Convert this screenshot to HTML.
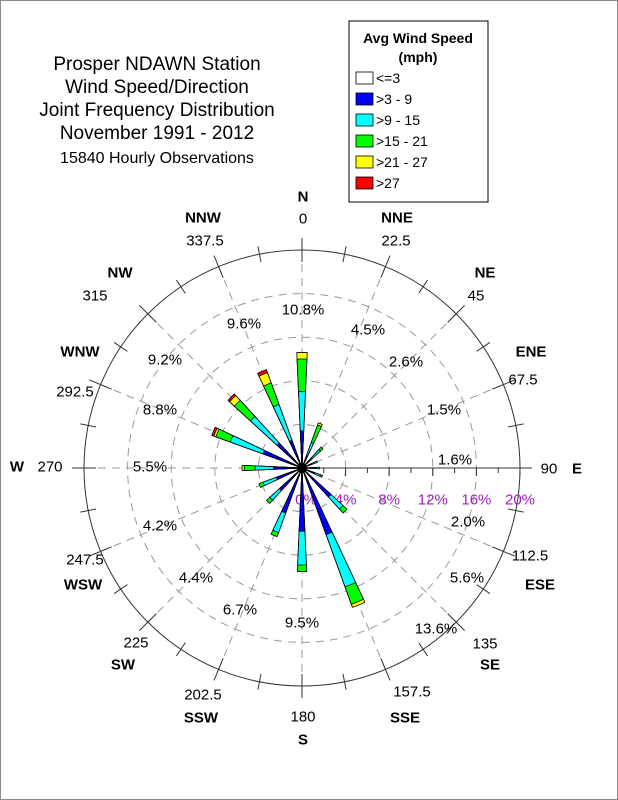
<!DOCTYPE html>
<html><head><meta charset="utf-8"><style>
body{margin:0;background:#fff}
svg{display:block;font-family:"Liberation Sans",Arial,sans-serif}
</style></head><body>
<svg id="s" width="618" height="800" viewBox="0 0 618 800" xmlns="http://www.w3.org/2000/svg">
<rect x="0.5" y="0.5" width="617" height="799" fill="#fff" stroke="#888"/>
<g font-size="19" text-anchor="middle" fill="#000">
<text x="157" y="70">Prosper NDAWN Station</text>
<text x="157" y="93">Wind Speed/Direction</text>
<text x="157" y="116">Joint Frequency Distribution</text>
<text x="157" y="139">November 1991 - 2012</text>
<text x="157" y="163" font-size="16">15840 Hourly Observations</text>
</g>
<rect x="349" y="21" width="139" height="181" fill="#fff" stroke="#000"/>
<g font-size="14" font-weight="bold" text-anchor="middle"><text x="418" y="43">Avg Wind Speed</text><text x="418" y="62">(mph)</text></g>
<g id="leg" font-size="14"></g>
<g id="g"></g>
</svg>
<script>
var NS="http://www.w3.org/2000/svg",g=document.getElementById('g'),leg=document.getElementById('leg');
function el(t,a,p){var e=document.createElementNS(NS,t);for(var k in a)e.setAttribute(k,a[k]);(p||g).appendChild(e);return e;}
function tx(x,y,s,a){var e=el('text',Object.assign({x:x,y:y,'text-anchor':'middle','dominant-baseline':'central','font-size':15},a||{}));e.textContent=s;return e;}
var cols=['#fff','#0000ff','#00ffff','#00ff00','#ffff00','#ff0000'],labs=['<=3','>3 - 9','>9 - 15','>15 - 21','>21 - 27','>27'];
labs.forEach(function(l,i){var y=78+i*21;el('rect',{x:356,y:y-6,width:17,height:12,fill:cols[i],stroke:'#000','stroke-width':0.8},leg);var t=el('text',{x:376,y:y+5},leg);t.textContent=l;});
var cx=302,cy=468,R=218,P=R/20;
// rings
[4,8,12,16].forEach(function(p){el('circle',{cx:cx,cy:cy,r:p*P,fill:'none',stroke:'#999','stroke-dasharray':'8,6'});});
for(var i=0;i<16;i++){var a=i*22.5*Math.PI/180;if(i==4)continue;el('line',{x1:cx,y1:cy,x2:cx+R*Math.sin(a),y2:cy-R*Math.cos(a),stroke:'#999','stroke-dasharray':'8,6'});}
el('circle',{cx:cx,cy:cy,r:R,fill:'none',stroke:'#333'});
for(var i=0;i<32;i++){var a=i*11.25*Math.PI/180,r1=R-8,r2=R+8;if(i%2==0){r1=R-12;r2=R+12;}el('line',{x1:cx+r1*Math.sin(a),y1:cy-r1*Math.cos(a),x2:cx+r2*Math.sin(a),y2:cy-r2*Math.cos(a),stroke:'#333'});}
el('line',{x1:cx,y1:cy,x2:cx+R,y2:cy,stroke:'#333'});
for(var p=2;p<=20;p+=2){var x=cx+p*P;el('line',{x1:x,y1:cy,x2:x,y2:cy+(p%4==0?8:5),stroke:'#333'});}
[0,4,8,12,16,20].forEach(function(p){tx(cx+p*P+(p==0?4:0),cy+32,p+'%',{fill:'#a020c0','font-size':15});});
// petals: cumulative percents
var D=[[3.4,7.0,10.0,10.6],[1.2,2.5,4.2,4.4],[1.2,2.3,2.6],[1.0,1.5],[1.3,1.6],[1.2,1.8,2.0],[3.6,5.1,5.6],[6.5,11.6,13.3,13.6],[5.8,8.9,9.5],[4.4,6.3,6.7],[2.8,4.0,4.4],[2.5,3.8,4.2],[2.6,4.3,5.3,5.5],[3.8,7.0,8.4,8.6,8.8],[3.1,6.4,8.4,9.0,9.2],[2.7,6.2,8.3,9.3,9.6]];
var hw=2.6*Math.PI/180;
D.forEach(function(s,i){var a=i*22.5*Math.PI/180;for(var k=s.length-1;k>=0;k--){var r=s[k]*P;
var x1=cx+r*Math.sin(a-hw),y1=cy-r*Math.cos(a-hw),x2=cx+r*Math.sin(a+hw),y2=cy-r*Math.cos(a+hw);
el('path',{d:'M'+cx+','+cy+'L'+x1+','+y1+'A'+r+','+r+' 0 0 1 '+x2+','+y2+'Z',fill:cols[k+1],stroke:'#000','stroke-width':0.8});}});
el('circle',{cx:cx,cy:cy,r:5,fill:'#000'});
// percent labels
[[303,310,'10.8%'],[368,330,'4.5%'],[406,362,'2.6%'],[444,410,'1.5%'],[455,460,'1.6%'],[468,522,'2.0%'],[467,578,'5.6%'],[436,629,'13.6%'],[302,623,'9.5%'],[240,610,'6.7%'],[196,578,'4.4%'],[160,526,'4.2%'],[150,467,'5.5%'],[160,410,'8.8%'],[165,360,'9.2%'],[244,324,'9.6%']].forEach(function(d){tx(d[0],d[1],d[2]);});
[[303,219,'0'],[396,241,'22.5'],[476,296,'45'],[523,380,'67.5'],[549,469,'90'],[530,556,'112.5'],[485,644,'135'],[412,692,'157.5'],[303,717,'180'],[203,695,'202.5'],[136,643,'225'],[85,560,'247.5'],[50,467,'270'],[75,392,'292.5'],[95,296,'315'],[205,241,'337.5']].forEach(function(d){tx(d[0],d[1],d[2]);});
[[303,197,'N'],[397,218,'NNE'],[485,273,'NE'],[531,352,'ENE'],[577,469,'E'],[540,585,'ESE'],[490,665,'SE'],[405,718,'SSE'],[303,740,'S'],[201,718,'SSW'],[123,665,'SW'],[83,585,'WSW'],[17,467,'W'],[80,352,'WNW'],[120,273,'NW'],[203,218,'NNW']].forEach(function(d){tx(d[0],d[1],d[2],{'font-weight':'bold'});});
</script>
</body></html>
